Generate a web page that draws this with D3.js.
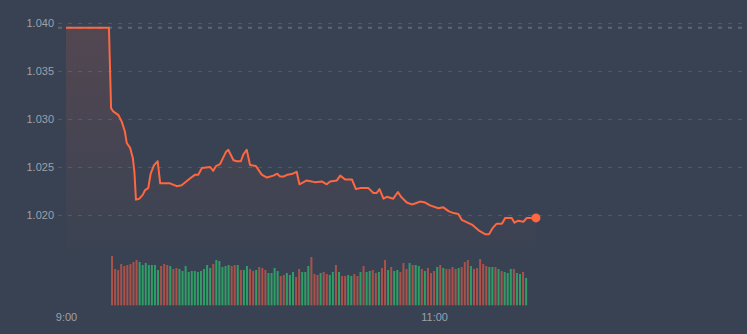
<!DOCTYPE html>
<html>
<head>
<meta charset="utf-8">
<script src="https://cdn.jsdelivr.net/npm/d3@7"></script>
<style>
  html, body { margin: 0; padding: 0; background: #394253; }
  svg { display: block; font-family: "Open Sans", sans-serif; }
</style>
</head>
<body>
<script>
//price line vertices: minutes after 9:00 and price
var lineMinutes = [0, 14, 14.7, 15.4, 17.1, 18.2, 19.2, 19.8, 20.9, 21.8, 22.3, 22.8, 23.9, 25, 25.8, 26.8,
  27.6, 28.7, 29.9, 30.7, 33.9, 36.1, 37.7, 40.4, 42.1, 43.1, 44.3, 47, 48, 48.9, 50.2, 52.2, 52.9,
  54.6, 55.7, 57, 57.8, 58.9, 60, 61.9, 63.8, 65.5, 67.6, 68.9, 69.8, 70.9, 72.2, 73.9, 75.2, 76.1,
  78.5, 80.1, 81.2, 83.4, 85, 86.1, 88.3, 89.4, 91, 93.2, 94.5, 95.9, 98.6, 100.2, 101.3, 102.2,
  103.5, 104.6, 106.7, 108.2, 109.2, 111.1, 112.7, 113.8, 115.4, 117.1, 118.7, 121.4, 123, 124.7,
  126.3, 127.9, 129, 132.3, 134.5, 136.6, 137.9, 139, 140.4, 142.1, 143.2, 145.3, 146.2, 147.3,
  149.1, 150.2, 153.2];
var linePrices = [1.0395, 1.0395, 1.0311, 1.0308, 1.0304, 1.0297, 1.0287, 1.0275, 1.0270, 1.0259, 1.0245,
  1.0216, 1.0217, 1.0221, 1.0226, 1.0228, 1.0243, 1.0252, 1.0256, 1.0233, 1.0233, 1.0230, 1.0231,
  1.0238, 1.0242, 1.0242, 1.0249, 1.0250, 1.0246, 1.0251, 1.0253, 1.0266, 1.0268, 1.0257, 1.0256,
  1.0256, 1.0263, 1.0268, 1.0252, 1.0251, 1.0242, 1.0239, 1.0241, 1.0243, 1.0240, 1.0240, 1.0242,
  1.0243, 1.0245, 1.0232, 1.0236, 1.0235, 1.0234, 1.0235, 1.0232, 1.0235, 1.0236, 1.0241, 1.0237,
  1.0237, 1.0227, 1.0228, 1.0228, 1.0223, 1.0223, 1.0227, 1.0217, 1.0219, 1.0217, 1.0224, 1.0219,
  1.0213, 1.0211, 1.0212, 1.0214, 1.0213, 1.0210, 1.0207, 1.0208, 1.0204, 1.0202, 1.0201, 1.0195,
  1.0190, 1.0184, 1.0180, 1.0180, 1.0186, 1.0191, 1.0191, 1.0197, 1.0197, 1.0192, 1.0194, 1.0193,
  1.0197, 1.0197];

//reference (previous close) level
var refPrice = 1.0395;

//volume bars, one per minute from 9:15
var volStart = 15;
var volumes = [493, 363, 353, 413, 393, 403, 413, 433, 453, 433, 403, 423, 403, 403, 403, 353, 393,
  413, 403, 393, 363, 373, 363, 343, 393, 333, 343, 343, 333, 343, 363, 403, 373, 413, 453, 443,
  383, 393, 403, 393, 403, 403, 353, 353, 393, 363, 343, 353, 383, 373, 353, 323, 323, 373, 343,
  293, 303, 323, 303, 333, 283, 363, 333, 333, 393, 483, 313, 303, 323, 333, 313, 303, 333, 403,
  333, 293, 293, 303, 293, 313, 293, 333, 393, 333, 343, 353, 323, 333, 373, 453, 353, 383, 343,
  353, 333, 423, 363, 423, 403, 403, 393, 363, 343, 373, 323, 343, 383, 403, 373, 363, 363, 383,
  363, 373, 383, 433, 453, 393, 363, 373, 463, 413, 393, 383, 383, 383, 363, 343, 333, 323, 363,
  363, 323, 313, 333, 273];
//r = down bar, g = up bar
var volDirs = ("rrrrrrrrrggggggg" + "rrrgrrggggggggggg" + "rgggggrrgrgg" + "rrgrrrggggrrggg" +
  "rrgggrrrgrrggrgrrggrrgrggrrgrrg" + "rggrrrgrggrgrrrgrgrrrrgrrrgrrrrrggrgrgggrggrg").split("");

//axis labels
var yTicks = [1.020, 1.025, 1.030, 1.035, 1.040];
var xTicks = [0, 120];
var xTickLabels = ["9:00", "11:00"];

window.onload = drawChart();

function drawChart(){

    var width = 747,
        height = 334;

    var svg = d3.select("body")
        .append("svg")
        .attr("width", width)
        .attr("height", height);

    //background
    svg.append("rect")
        .attr("width", width)
        .attr("height", height)
        .style("fill", "#394253");

    //scales
    var x = d3.scaleLinear()
        .domain([0, 222])
        .range([66, 747]);

    var y = d3.scaleLinear()
        .domain([1.020, 1.040])
        .range([215, 23]);

    var vol = d3.scaleLinear()
        .domain([0, 500])
        .range([305.3, 255.3]);

    //gradient for the area under the line
    var defs = svg.append("defs");
    var grad = defs.append("linearGradient")
        .attr("id", "areaGrad")
        .attr("x1", 0).attr("y1", 0)
        .attr("x2", 0).attr("y2", 1);
    grad.append("stop").attr("offset", "0%")
        .attr("stop-color", "#ff6a45").attr("stop-opacity", 0.13);
    grad.append("stop").attr("offset", "100%")
        .attr("stop-color", "#ff6a45").attr("stop-opacity", 0.01);

    //horizontal grid lines + y labels
    var yAxis = d3.axisLeft(y)
        .tickValues(yTicks)
        .tickFormat(d3.format(".3f"))
        .tickSize(-(width - 58))
        .tickPadding(4);

    var gy = svg.append("g")
        .attr("transform", "translate(58,0)")
        .call(yAxis);
    gy.select(".domain").remove();
    gy.selectAll(".tick line")
        .attr("stroke", "#4f5969")
        .attr("stroke-dasharray", "4,6");
    gy.selectAll(".tick text")
        .attr("fill", "#9aa1ad")
        .style("font-size", "11px");

    //reference dotted line
    svg.append("line")
        .attr("x1", 58)
        .attr("x2", width)
        .attr("y1", y(refPrice))
        .attr("y2", y(refPrice))
        .attr("stroke", "#5c6676")
        .attr("stroke-width", 2)
        .attr("stroke-dasharray", "4,6");

    var pts = lineMinutes.map(function(m, i){ return [m, linePrices[i]]; });

    //area under price line
    var area = d3.area()
        .x(function(d){ return x(d[0]); })
        .y0(248)
        .y1(function(d){ return y(d[1]); });

    svg.append("path")
        .datum(pts)
        .attr("d", area)
        .attr("fill", "url(#areaGrad)");

    //price line
    var line = d3.line()
        .x(function(d){ return x(d[0]); })
        .y(function(d){ return y(d[1]); });

    svg.append("path")
        .datum(pts)
        .attr("d", line)
        .attr("fill", "none")
        .attr("stroke", "#ff6740")
        .attr("stroke-width", 2)
        .attr("stroke-linejoin", "round");

    //last price dot
    var last = pts[pts.length - 1];
    svg.append("circle")
        .attr("cx", x(last[0]))
        .attr("cy", y(last[1]))
        .attr("r", 4.5)
        .attr("fill", "#ff6740");

    //volume bars
    svg.selectAll(".vol")
        .data(volumes)
        .enter()
        .append("rect")
        .attr("class", "vol")
        .attr("x", function(d, i){ return x(volStart + i) - 1; })
        .attr("y", function(d){ return vol(d); })
        .attr("width", 2)
        .attr("height", function(d){ return vol(0) - vol(d); })
        .attr("fill", function(d, i){ return volDirs[i] === "g" ? "#2f9d65" : "#a8524a"; });

    //time axis
    var xAxis = d3.axisBottom(x)
        .tickValues(xTicks)
        .tickFormat(function(d, i){ return xTickLabels[i]; })
        .tickSize(0)
        .tickPadding(0);

    var gx = svg.append("g")
        .attr("transform", "translate(0,313)")
        .call(xAxis);
    gx.select(".domain").remove();
    gx.selectAll(".tick text")
        .attr("fill", "#9aa1ad")
        .style("font-size", "11px");
}
</script>
</body>
</html>
